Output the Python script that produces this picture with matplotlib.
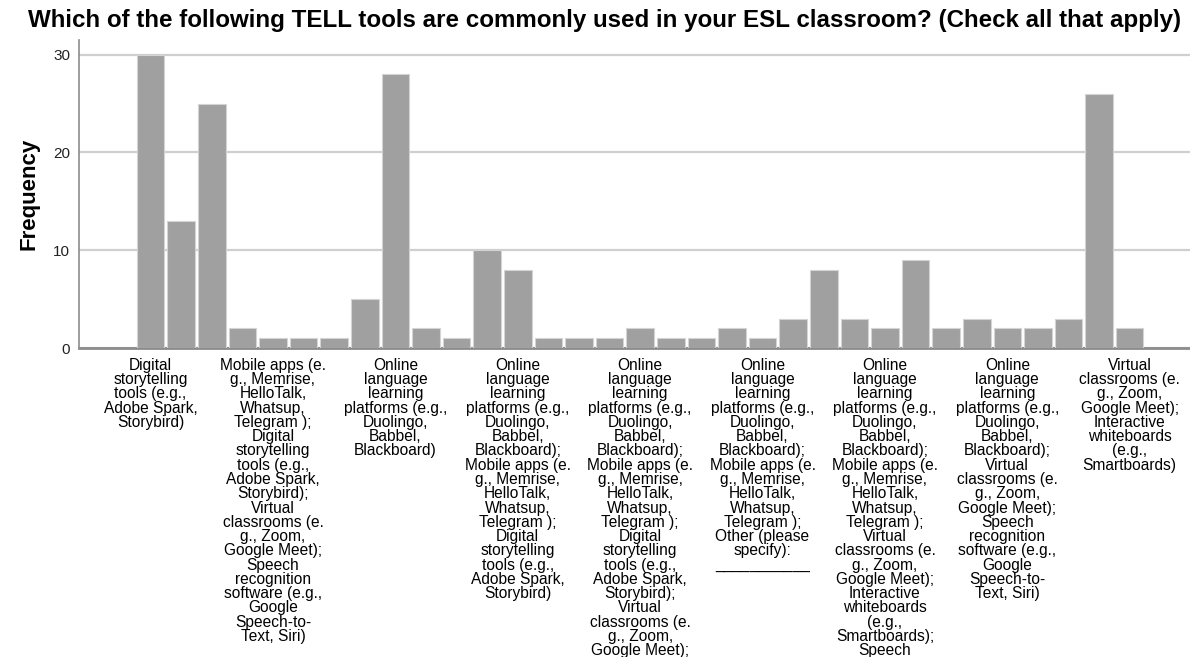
import matplotlib
matplotlib.use('Agg')
import matplotlib.pyplot as plt

plt.rcParams['font.family'] = ['Liberation Sans', 'DejaVu Sans']

# 응답 조합별 빈도 (33개 범주, 왼쪽부터)
counts = [30, 13, 25, 2, 1, 1, 1, 5, 28, 2, 1, 10, 8, 1, 1, 1, 2,
          1, 1, 2, 1, 3, 8, 3, 2, 9, 2, 3, 2, 2, 3, 26, 2]

# x축에 표시되는 라벨 (4개 범주마다 하나)
label_every = 4
tick_labels = [
    "Digital\nstorytelling\ntools (e.g.,\nAdobe Spark,\nStorybird)",
    "Mobile apps (e.\ng., Memrise,\nHelloTalk,\nWhatsup,\nTelegram );\nDigital\nstorytelling\ntools (e.g.,\nAdobe Spark,\nStorybird);\nVirtual\nclassrooms (e.\ng., Zoom,\nGoogle Meet);\nSpeech\nrecognition\nsoftware (e.g.,\nGoogle\nSpeech-to-\nText, Siri)",
    "Online\nlanguage\nlearning\nplatforms (e.g.,\nDuolingo,\nBabbel,\nBlackboard)",
    "Online\nlanguage\nlearning\nplatforms (e.g.,\nDuolingo,\nBabbel,\nBlackboard);\nMobile apps (e.\ng., Memrise,\nHelloTalk,\nWhatsup,\nTelegram );\nDigital\nstorytelling\ntools (e.g.,\nAdobe Spark,\nStorybird)",
    "Online\nlanguage\nlearning\nplatforms (e.g.,\nDuolingo,\nBabbel,\nBlackboard);\nMobile apps (e.\ng., Memrise,\nHelloTalk,\nWhatsup,\nTelegram );\nDigital\nstorytelling\ntools (e.g.,\nAdobe Spark,\nStorybird);\nVirtual\nclassrooms (e.\ng., Zoom,\nGoogle Meet);",
    "Online\nlanguage\nlearning\nplatforms (e.g.,\nDuolingo,\nBabbel,\nBlackboard);\nMobile apps (e.\ng., Memrise,\nHelloTalk,\nWhatsup,\nTelegram );\nOther (please\nspecify):\n___________",
    "Online\nlanguage\nlearning\nplatforms (e.g.,\nDuolingo,\nBabbel,\nBlackboard);\nMobile apps (e.\ng., Memrise,\nHelloTalk,\nWhatsup,\nTelegram );\nVirtual\nclassrooms (e.\ng., Zoom,\nGoogle Meet);\nInteractive\nwhiteboards\n(e.g.,\nSmartboards);\nSpeech",
    "Online\nlanguage\nlearning\nplatforms (e.g.,\nDuolingo,\nBabbel,\nBlackboard);\nVirtual\nclassrooms (e.\ng., Zoom,\nGoogle Meet);\nSpeech\nrecognition\nsoftware (e.g.,\nGoogle\nSpeech-to-\nText, Siri)",
    "Virtual\nclassrooms (e.\ng., Zoom,\nGoogle Meet);\nInteractive\nwhiteboards\n(e.g.,\nSmartboards)",
]
yticks = [0, 10, 20, 30]

fig = plt.figure(figsize=(11.9, 6.57), dpi=100)
ax = fig.add_axes([79 / 1190, 1 - 348 / 657, 1 - 79 / 1190, (348 - 40) / 657])

x = list(range(len(counts)))
ax.bar(x, counts, width=0.9, color='#a0a0a0', edgecolor='#d4d4d4', linewidth=0.8, zorder=3)

ax.set_xlim(-2.34, 33.97)
ax.set_ylim(0, 31.5)
ax.set_yticks(yticks)
ax.yaxis.grid(True, color='#cfcfcf', linewidth=1.6, zorder=0)
ax.set_axisbelow(True)

ax.set_xticks(x[::label_every])
ax.set_xticklabels(tick_labels, fontsize=11.2, linespacing=0.94, va='top')
ax.tick_params(axis='x', length=0, pad=7)
ax.tick_params(axis='y', length=0, pad=6.5, labelsize=11, labelcolor='#222222')

for side in ['top', 'right']:
    ax.spines[side].set_visible(False)
ax.spines['left'].set_color('#8c8c8c')
ax.spines['left'].set_linewidth(1.2)
ax.spines['bottom'].set_color('#8c8c8c')
ax.spines['bottom'].set_linewidth(2.0)

ax.set_ylabel('Frequency', fontsize=16, fontweight='bold', labelpad=10)
fig.text(605 / 1190, 1 - 20 / 657, 'Which of the following TELL tools are commonly used in your ESL classroom? (Check all that apply)',
         ha='center', va='center', fontsize=17.4, fontweight='bold')

fig.savefig('out.png', dpi=100)
